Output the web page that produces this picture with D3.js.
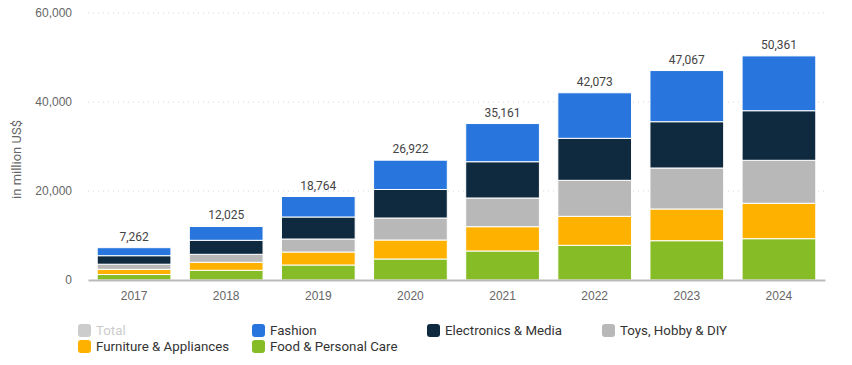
<!DOCTYPE html>
<html>
<head>
<meta charset="utf-8">
<script src="https://cdn.jsdelivr.net/npm/d3@7"></script>
<style>
  body { margin: 0; background: #fff; }
  svg { font-family: Roboto, "Liberation Sans", Arial, sans-serif; }
</style>
</head>
<body>
<svg id="chart" width="852" height="365"></svg>
<script>
var years = ['2017', '2018', '2019', '2020', '2021', '2022', '2023', '2024'];
var food = [1230, 2180, 3370, 4720, 6520, 7800, 8830, 9280];
var furniture = [1170, 1800, 2920, 4270, 5460, 6510, 7130, 7960];
var toys = [1150, 1795, 2920, 4940, 6450, 8090, 9210, 9660];
var electronics = [1910, 3145, 4950, 6410, 8150, 9440, 10400, 11140];
var fashion = [1802, 3105, 4604, 6582, 8581, 10233, 11497, 12321];
var totals = [7262, 12025, 18764, 26922, 35161, 42073, 47067, 50361];
var yTicks = [0, 20000, 40000, 60000];

var keys = ['food', 'furniture', 'toys', 'electronics', 'fashion'];
var colors = {food: '#86bc25', furniture: '#ffb100', toys: '#b8b8b8', electronics: '#0f2a3f', fashion: '#2876dd'};
var legendItems = [
    ['Total', '#cccccc'], ['Fashion', colors.fashion], ['Electronics & Media', colors.electronics], ['Toys, Hobby & DIY', colors.toys],
    ['Furniture & Appliances', colors.furniture], ['Food & Personal Care', colors.food]
];

var margin = {top: 13, right: 27, bottom: 85, left: 88},
    width = 852 - margin.left - margin.right,
    height = 365 - margin.top - margin.bottom;

var svg = d3.select('#chart');
var g = svg.append('g').attr('transform', 'translate(' + margin.left + ',' + margin.top + ')');

var rows = years.map(function(y, i) {
    return {year: y, food: food[i], furniture: furniture[i], toys: toys[i], electronics: electronics[i], fashion: fashion[i], total: totals[i]};
});

var x = d3.scaleBand().domain(years).range([0, width]).paddingInner(0.2).paddingOuter(0.1);
var y = d3.scaleLinear().domain([0, 60000]).range([height, 0]);

// gridlines
g.selectAll('.grid').data(yTicks.filter(function(d) { return d > 0; }))
    .enter().append('line')
    .attr('x1', 0).attr('x2', width)
    .attr('y1', function(d) { return y(d); }).attr('y2', function(d) { return y(d); })
    .attr('stroke', '#d6d6d6').attr('stroke-dasharray', '1,4');

// y axis labels
g.append('g')
    .call(d3.axisLeft(y).tickValues(yTicks).tickFormat(d3.format(',')).tickSize(0).tickPadding(16))
    .call(function(a) { a.select('.domain').remove(); })
    .selectAll('text').attr('fill', '#666').style('font-size', '12px');

svg.append('text')
    .attr('transform', 'translate(21,' + (margin.top + height / 2 + 13) + ') rotate(-90)')
    .attr('text-anchor', 'middle')
    .attr('fill', '#666').style('font-size', '13px')
    .text('in million US$');

var series = d3.stack().keys(keys)(rows);

g.selectAll('.layer').data(series).enter().append('g')
    .attr('fill', function(d) { return colors[d.key]; })
    .selectAll('rect').data(function(d) { return d; })
    .enter().append('rect')
    .attr('x', function(d) { return x(d.data.year); })
    .attr('width', x.bandwidth())
    .attr('y', function(d) { return y(d[1]); })
    .attr('height', function(d) { return y(d[0]) - y(d[1]); })
    .attr('stroke', '#fff').attr('stroke-width', 1);

// x axis
g.append('g')
    .attr('transform', 'translate(0,' + height + ')')
    .call(d3.axisBottom(x).tickSize(0).tickPadding(11))
    .call(function(a) { a.select('.domain').attr('stroke', '#bbb').attr('stroke-width', 2); })
    .selectAll('text').attr('fill', '#666').style('font-size', '12px');

// totals
g.selectAll('.total').data(rows).enter().append('text')
    .attr('x', function(d) { return x(d.year) + x.bandwidth() / 2; })
    .attr('y', function(d) { return y(d.total) - 7; })
    .attr('text-anchor', 'middle')
    .attr('fill', '#444').style('font-size', '12px')
    .text(function(d) { return d3.format(',')(d.total); });

// legend
var legendX = [78, 252, 427, 602];
var legend = svg.selectAll('.legend').data(legendItems).enter().append('g')
    .attr('transform', function(d, i) { return 'translate(' + legendX[i % 4] + ',' + (324 + Math.floor(i / 4) * 16) + ')'; });
legend.append('rect')
    .attr('width', 13).attr('height', 13).attr('rx', 3)
    .attr('fill', function(d) { return d[1]; });
legend.append('text')
    .attr('x', 18).attr('y', 11)
    .attr('fill', function(d, i) { return i === 0 ? '#cccccc' : '#333'; })
    .style('font-size', '13.3px')
    .text(function(d) { return d[0]; });
</script>
</body>
</html>
